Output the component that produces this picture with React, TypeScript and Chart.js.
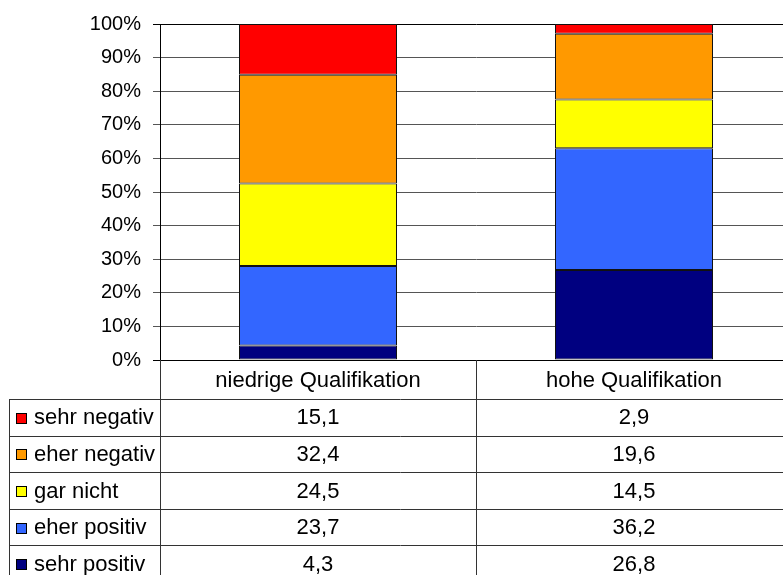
import React, { useEffect, useRef } from "react";
import { Chart, registerables } from "chart.js";

Chart.register(...registerables);

const categories = ["niedrige Qualifikation", "hohe Qualifikation"];
const seriesLabels = ["sehr positiv", "eher positiv", "gar nicht", "eher negativ", "sehr negativ"];
const sehrPositiv = [4.3, 26.8];
const eherPositiv = [23.7, 36.2];
const garNicht = [24.5, 14.5];
const eherNegativ = [32.4, 19.6];
const sehrNegativ = [15.1, 2.9];
const seriesColors = ["#000080", "#3366FF", "#FFFF00", "#FF9900", "#FF0000"];
const yTicks = [0, 10, 20, 30, 40, 50, 60, 70, 80, 90, 100];

const CANVAS_W = 792;
const CANVAS_H = 575;
const FONT = "'Liberation Sans', Arial, sans-serif";

const fmt = (v: number) => String(v).replace(".", ",");

const tablePlugin = {
  id: "dataTable",
  afterDraw(chart: any) {
    const ctx = chart.ctx;
    const area = chart.chartArea;
    const xs = chart.scales.x;
    const bottom = chart.height;
    const tableTop = 399;
    const rowH = 36.6;
    const leftX = 9;
    const colCenters = categories.map((_, i) => xs.getPixelForValue(i));
    const divider = (colCenters[0] + colCenters[1]) / 2;

    ctx.save();
    ctx.strokeStyle = "#333";
    ctx.lineWidth = 1;
    const hline = (y: number, x1: number, x2: number) => {
      const yy = Math.round(y) + 0.5;
      ctx.beginPath();
      ctx.moveTo(x1, yy);
      ctx.lineTo(x2, yy);
      ctx.stroke();
    };
    const vline = (x: number, y1: number, y2: number) => {
      const xx = Math.round(x) + 0.5;
      ctx.beginPath();
      ctx.moveTo(xx, y1);
      ctx.lineTo(xx, y2);
      ctx.stroke();
    };

    vline(area.left, area.bottom, bottom);
    vline(divider, area.bottom, bottom);
    vline(leftX - 0.5, tableTop, bottom);

    ctx.fillStyle = "#000";
    ctx.font = `22px ${FONT}`;
    ctx.textAlign = "center";
    ctx.textBaseline = "middle";
    categories.forEach((c, i) => {
      ctx.fillText(c, colCenters[i], (area.bottom + tableTop) / 2 + 1);
    });

    const ds = chart.data.datasets.slice().reverse();
    for (let r = 0; r <= ds.length; r++) {
      hline(tableTop + r * rowH, leftX, area.right);
    }
    ds.forEach((d: any, r: number) => {
      const top = tableTop + r * rowH;
      const cy = top + rowH / 2 + 1;
      ctx.fillStyle = d.backgroundColor;
      ctx.fillRect(16, Math.round(cy - 5.5), 11, 11);
      ctx.strokeStyle = "#000";
      ctx.strokeRect(16.5, Math.round(cy - 5.5) + 0.5, 10, 10);
      ctx.strokeStyle = "#333";
      ctx.fillStyle = "#000";
      ctx.textAlign = "left";
      ctx.fillText(d.label, 34, cy);
      ctx.textAlign = "center";
      d.data.forEach((v: number, i: number) => {
        ctx.fillText(fmt(v), colCenters[i], cy);
      });
    });
    ctx.restore();
  },
};

export default function App() {
  const ref = useRef<HTMLCanvasElement | null>(null);

  useEffect(() => {
    if (!ref.current) return;
    const seriesData = [sehrPositiv, eherPositiv, garNicht, eherNegativ, sehrNegativ];
    const chart = new Chart(ref.current, {
      type: "bar",
      data: {
        labels: categories,
        datasets: seriesLabels.map((label, i) => ({
          label,
          data: seriesData[i],
          backgroundColor: seriesColors[i],
          borderColor: "#111",
          borderWidth: 1,
          borderSkipped: false,
          categoryPercentage: 1,
          barPercentage: 0.5,
        })),
      },
      options: {
        responsive: false,
        animation: false,
        devicePixelRatio: 1,
        layout: { padding: { top: 23, left: 0, right: 0, bottom: 0 } },
        plugins: {
          legend: { display: false },
          tooltip: { enabled: false },
        },
        scales: {
          x: {
            stacked: true,
            grid: { display: false },
            border: { display: true, color: "#000", width: 1 },
            ticks: { display: false },
            afterFit: (s: any) => {
              s.height = CANVAS_H - 360;
            },
          },
          y: {
            stacked: true,
            min: 0,
            max: 100,
            afterBuildTicks: (s: any) => {
              s.ticks = yTicks.map((v) => ({ value: v }));
            },
            afterFit: (s: any) => {
              s.width = 160;
            },
            grid: {
              color: (c: any) => (c.tick && (c.tick.value === 100 || c.tick.value === 0) ? "#000" : "#555"),
              tickLength: 7,
              lineWidth: 1,
            },
            border: { display: true, color: "#000", width: 1 },
            ticks: {
              padding: 12,
              color: "#000",
              font: { family: FONT, size: 20 },
              callback: (v: any) => `${v}%`,
            },
          },
        },
      },
      plugins: [tablePlugin],
    });
    return () => chart.destroy();
  }, []);

  return (
    <div style={{ position: "fixed", left: 0, top: 0, width: 783, height: 575, overflow: "hidden", background: "#fff" }}>
      <canvas ref={ref} width={CANVAS_W} height={CANVAS_H} style={{ width: CANVAS_W, height: CANVAS_H, display: "block" }} />
    </div>
  );
}
